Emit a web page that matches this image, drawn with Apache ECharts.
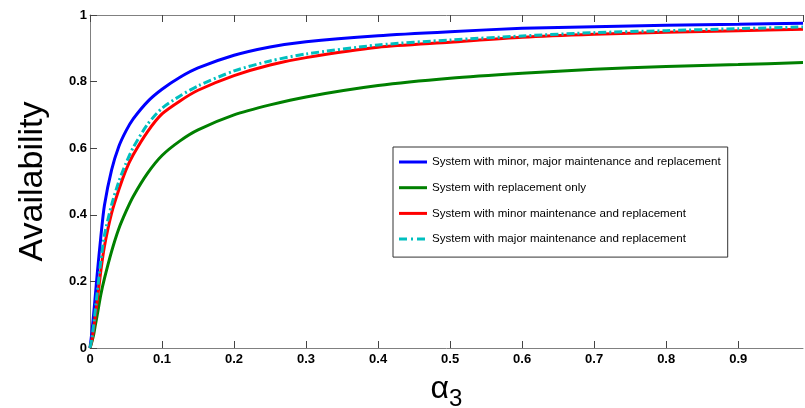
<!DOCTYPE html>
<html>
<head>
<meta charset="utf-8">
<script src="https://cdn.jsdelivr.net/npm/echarts@6/dist/echarts.min.js"></script>
<style>html,body{margin:0;padding:0;background:#fff;overflow:hidden}#c{width:805px;height:408px}</style>
</head>
<body>
<div id="c"></div>
<script>
// alpha_3 sample points
const alpha3 = [0, 0.0025, 0.005, 0.0075, 0.01, 0.015, 0.02, 0.03, 0.04, 0.05, 0.06, 0.08, 0.1, 0.125, 0.15, 0.2, 0.25, 0.3, 0.4, 0.5, 0.6, 0.7, 0.8, 0.9, 0.99];
const seriesNames = [
  'System with minor, major maintenance and replacement',
  'System with replacement only',
  'System with minor maintenance and replacement',
  'System with major maintenance and replacement'
];
const availMinorMajor = [0, 0.045, 0.1, 0.16, 0.222, 0.333, 0.428, 0.535, 0.605, 0.652, 0.688, 0.74, 0.777, 0.813, 0.841, 0.879, 0.904, 0.92, 0.938, 0.95, 0.96, 0.965, 0.969, 0.972, 0.975];
const availReplacement = [0, 0.018, 0.039, 0.07, 0.099, 0.16, 0.208, 0.29, 0.358, 0.41, 0.455, 0.525, 0.578, 0.622, 0.655, 0.70, 0.73, 0.754, 0.788, 0.81, 0.825, 0.837, 0.845, 0.851, 0.857];
const availMinor = [0, 0.022, 0.057, 0.099, 0.141, 0.231, 0.305, 0.405, 0.475, 0.535, 0.58, 0.65, 0.703, 0.742, 0.774, 0.818, 0.85, 0.872, 0.903, 0.918, 0.933, 0.942, 0.948, 0.953, 0.957];
const availMajor = [0, 0.027, 0.068, 0.117, 0.166, 0.26, 0.338, 0.43, 0.5, 0.555, 0.602, 0.672, 0.72, 0.757, 0.787, 0.832, 0.862, 0.883, 0.91, 0.925, 0.937, 0.947, 0.953, 0.959, 0.964];
const xTicks = [0, 0.1, 0.2, 0.3, 0.4, 0.5, 0.6, 0.7, 0.8, 0.9];
const yTicks = [0, 0.2, 0.4, 0.6, 0.8, 1];

const pair = ys => alpha3.map((x, i) => [x, ys[i]]);
const FONT = 'Liberation Sans';
const chart = echarts.init(document.getElementById('c'), null, {renderer: 'canvas', width: 805, height: 408});
const colors = ['#0000ff', '#008000', '#ff0000', '#00bfbf'];
const datasets = [availMinorMajor, availReplacement, availMinor, availMajor];
const solidIcon = 'path://M0,0h28v3h-28z';
const dashDotIcon = 'path://M0,0h8v3h-8z M12,0h2v3h-2z M18,0h8v3h-8z M28,0h0v3h0z';
const fmt = v => {
  const r = Math.round(v * 10) / 10;
  return (r === 0 || r === 1) ? String(r) : r.toFixed(1);
};
chart.setOption({
  animation: false,
  backgroundColor: '#ffffff',
  grid: {left: 90, width: 713, top: 15, height: 333, containLabel: false, outerBoundsMode: 'none'},
  legend: {
    orient: 'vertical', left: 393, top: 147,
    padding: [8, 7, 11, 6], itemGap: 11.7,
    itemWidth: 28, itemHeight: 3,
    borderColor: '#333', borderWidth: 1, backgroundColor: '#fff',
    textStyle: {fontFamily: FONT, fontSize: 11.6, lineHeight: 14, color: '#000'},
    data: seriesNames.map((n, i) => ({name: n, icon: i === 3 ? dashDotIcon : solidIcon,
      itemStyle: {color: colors[i]}}))
  },
  xAxis: [{
    type: 'value', min: 0, max: 0.99, interval: 0.1, position: 'bottom',
    name: '{a|α}{s|3}', nameLocation: 'middle', nameGap: 25,
    nameTextStyle: {rich: {
      a: {fontFamily: FONT, fontSize: 32, color: '#000', verticalAlign: 'bottom'},
      s: {fontFamily: FONT, fontSize: 24, color: '#000', verticalAlign: 'bottom', padding: [0, 0, -6, 0]}
    }},
    axisLine: {lineStyle: {color: '#808080', width: 1}},
    axisTick: {inside: true, length: 7, lineStyle: {color: '#444'}},
    axisLabel: {fontFamily: FONT, fontSize: 13, fontWeight: 'bold', color: '#000', margin: 5,
      showMaxLabel: false, formatter: v => xTicks.some(t => Math.abs(t - v) < 1e-9) ? fmt(v) : ''},
    splitLine: {show: false}
  }, {
    type: 'value', min: 0, max: 0.99, interval: 0.1, position: 'top',
    axisLine: {show: true, lineStyle: {color: '#808080', width: 1}},
    axisTick: {show: true, inside: true, length: 7, lineStyle: {color: '#444'}},
    axisLabel: {show: false}, splitLine: {show: false}
  }],
  yAxis: {
    type: 'value', min: 0, max: 1, interval: 0.2,
    name: 'Availability', nameLocation: 'middle', nameGap: 40,
    nameTextStyle: {fontFamily: FONT, fontSize: 34, color: '#000'},
    axisLine: {show: true, lineStyle: {color: '#808080', width: 1}},
    axisTick: {show: true, inside: true, length: 7, lineStyle: {color: '#444'}},
    axisLabel: {fontFamily: FONT, fontSize: 13, fontWeight: 'bold', color: '#000', margin: 3,
      formatter: v => yTicks.some(t => Math.abs(t - v) < 1e-9) ? fmt(v) : ''},
    splitLine: {show: false}
  },
  series: datasets.map((d, i) => ({
    name: seriesNames[i], type: 'line', data: pair(d), xAxisIndex: 0,
    showSymbol: false, symbol: 'none', smooth: 0.25,
    lineStyle: {color: colors[i], width: 3, type: i === 3 ? [8, 3, 2, 3] : 'solid'},
    itemStyle: {color: colors[i]}
  }))
});
</script>
</body>
</html>
